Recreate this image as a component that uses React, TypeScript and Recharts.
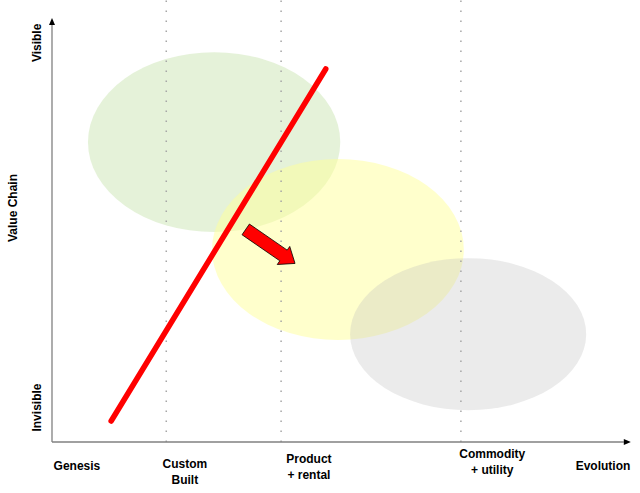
import React from "react";
import { ComposedChart, XAxis, YAxis, Line, ReferenceLine, ReferenceArea } from "recharts";

// evolution axis labels (x positions in 0..100 units)
const EVOLUTION_TICKS = [4.3, 22.9, 44.3, 75.9, 95];
const EVOLUTION_LABELS = [["Genesis"], ["Custom", "Built"], ["Product", "+ rental"], ["Commodity", "+ utility"], ["Evolution"]];

// value chain labels
const CHAIN_TICKS = [7.8, 90.3];
const CHAIN_LABELS = ["Invisible", "Visible"];

// dotted stage separators
const STAGE_LINES = [19.7, 39.5, 70.5];

// ellipses: x1, x2, y1, y2
const REGIONS = [
  { name: "custom", x1: 6.2, x2: 49.7, y1: 47.5, y2: 88.2, fill: "#cce6b3", opacity: 0.5 },
  { name: "product", x1: 27.6, x2: 71.0, y1: 23.1, y2: 64.0, fill: "#ffff99", opacity: 0.5 },
  { name: "commodity", x1: 51.4, x2: 92.1, y1: 7.2, y2: 41.6, fill: "#bcbcbc", opacity: 0.3 },
];

// red trend line and movement arrow
const TREND = [{ x: 10.2, y: 4.75 }, { x: 47.2, y: 84.4 }];
const MOVE = [{ x: 33.4, y: 48.1 }, { x: 41.9, y: 40.4 }];

const FONT = "'Liberation Sans', Arial, sans-serif";
const LABEL_TOP = [470, 468, 463, 458, 470];

const EllipseShape = (props: any) => {
  const { x, y, width, height, fill, fillOpacity } = props;
  return (
    <ellipse
      cx={x + width / 2}
      cy={y + height / 2}
      rx={Math.abs(width) / 2}
      ry={Math.abs(height) / 2}
      fill={fill}
      fillOpacity={fillOpacity}
    />
  );
};

const ArrowAxis = (props: any) => {
  const { x1, y1, x2, y2 } = props;
  const dx = x2 - x1;
  const dy = y2 - y1;
  const len = Math.hypot(dx, dy);
  const ux = dx / len;
  const uy = dy / len;
  const bx = x2 - ux * 7;
  const by = y2 - uy * 7;
  return (
    <g>
      <line x1={x1} y1={y1} x2={bx} y2={by} stroke="#808080" strokeWidth={1.3} />
      <polygon
        points={`${x2},${y2} ${bx - uy * 3},${by + ux * 3} ${bx + uy * 3},${by - ux * 3}`}
        fill="#000"
      />
    </g>
  );
};

const BlockArrow = (props: any) => {
  const { x1, y1, x2, y2 } = props;
  const dx = x2 - x1;
  const dy = y2 - y1;
  const len = Math.hypot(dx, dy);
  const ux = dx / len;
  const uy = dy / len;
  const nx = -uy;
  const ny = ux;
  const sw = 6.5;
  const hw = 11;
  const hl = 14;
  const hx = x2 - ux * hl;
  const hy = y2 - uy * hl;
  const pts = [
    [x1 + nx * sw, y1 + ny * sw],
    [hx + nx * sw, hy + ny * sw],
    [hx + nx * hw, hy + ny * hw],
    [x2, y2],
    [hx - nx * hw, hy - ny * hw],
    [hx - nx * sw, hy - ny * sw],
    [x1 - nx * sw, y1 - ny * sw],
  ]
    .map((p) => p.join(","))
    .join(" ");
  return <polygon points={pts} fill="#ff0000" stroke="#000" strokeWidth={0.8} strokeLinejoin="miter" />;
};

const EvolutionTick = (props: any) => {
  const { x, index } = props;
  const lines = EVOLUTION_LABELS[index] || [];
  return (
    <text x={x} y={LABEL_TOP[index]} textAnchor="middle" fontFamily={FONT} fontSize={12} fontWeight="bold" fill="#000">
      {lines.map((l, i) => (
        <tspan key={i} x={x} dy={i === 0 ? 0 : 16}>
          {l}
        </tspan>
      ))}
    </text>
  );
};

const ChainTick = (props: any) => {
  const { y, index } = props;
  return (
    <text
      x={41}
      y={y}
      transform={`rotate(-90, 41, ${y})`}
      textAnchor="middle"
      fontFamily={FONT}
      fontSize={12}
      fontWeight="bold"
      fill="#000"
    >
      {CHAIN_LABELS[index]}
    </text>
  );
};

export default function App() {
  return (
    <div style={{ position: "absolute", left: 0, top: 0, width: 640, height: 493, background: "#fff" }}>
      <ComposedChart width={640} height={493} data={TREND} margin={{ top: 0, right: 8, bottom: 0, left: 0 }}>
        <XAxis
          type="number"
          dataKey="x"
          domain={[0, 100]}
          ticks={EVOLUTION_TICKS}
          tick={<EvolutionTick />}
          axisLine={false}
          tickLine={false}
          height={51}
          interval={0}
        />
        <YAxis
          type="number"
          domain={[0, 100]}
          ticks={CHAIN_TICKS}
          tick={<ChainTick />}
          axisLine={false}
          tickLine={false}
          width={52}
          interval={0}
          label={{
            content: () => (
              <text
                x={17}
                y={208}
                transform="rotate(-90, 17, 208)"
                textAnchor="middle"
                fontFamily={FONT}
                fontSize={12}
                fontWeight="bold"
                fill="#000"
              >
                Value Chain
              </text>
            ),
          }}
        />
        {REGIONS.map((r) => (
          <ReferenceArea
            key={r.name}
            x1={r.x1}
            x2={r.x2}
            y1={r.y1}
            y2={r.y2}
            fill={r.fill}
            fillOpacity={r.opacity}
            stroke="none"
            shape={<EllipseShape />}
          />
        ))}
        {STAGE_LINES.map((v) => (
          <ReferenceLine key={v} x={v} stroke="#a6a6a6" strokeWidth={1.5} strokeDasharray="1.5 8.5" />
        ))}
        <Line
          dataKey="y"
          type="linear"
          stroke="#ff0000"
          strokeWidth={5.5}
          strokeLinecap="round"
          dot={false}
          activeDot={false}
          isAnimationActive={false}
        />
        <ReferenceLine segment={MOVE} shape={<BlockArrow />} ifOverflow="visible" />
        <ReferenceLine segment={[{ x: 0, y: 0 }, { x: 99.8, y: 0 }]} shape={<ArrowAxis />} ifOverflow="visible" />
        <ReferenceLine segment={[{ x: 0, y: 0 }, { x: 0, y: 95.9 }]} shape={<ArrowAxis />} ifOverflow="visible" />
      </ComposedChart>
    </div>
  );
}
